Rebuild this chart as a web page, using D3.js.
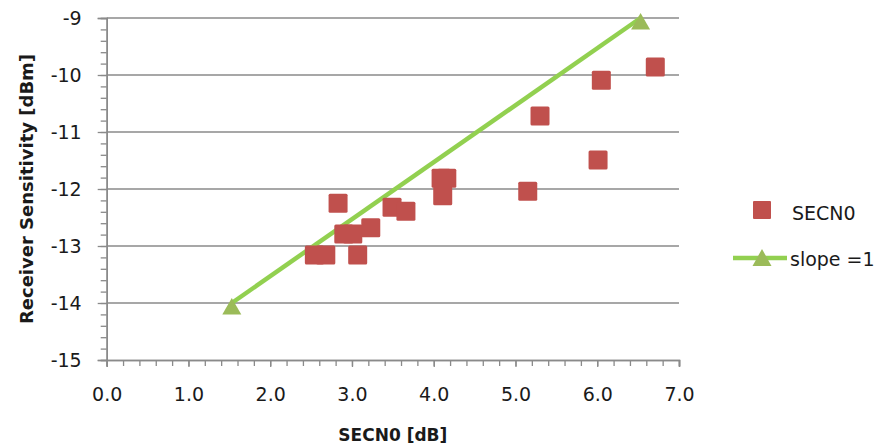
<!DOCTYPE html>
<html>
<head>
<meta charset="utf-8">
<script src="https://cdn.jsdelivr.net/npm/d3@7"></script>
<style>
  html, body { margin: 0; padding: 0; background: #ffffff; }
  svg { display: block; }
</style>
</head>
<body>
<svg id="chart" width="892" height="448"></svg>
<script>
// ---- data ----
const secnoX = [2.54, 2.68, 2.90, 2.83, 3.01, 3.07, 3.23, 3.49, 3.66, 4.09, 4.16, 4.11, 5.15, 5.30, 6.01, 6.05, 6.71];
const secnoY = [-13.16, -13.16, -12.79, -12.25, -12.79, -13.16, -12.68, -12.32, -12.39, -11.81, -11.81, -12.12, -12.04, -10.72, -11.49, -10.09, -9.86];
const slopeX = [1.53, 6.53];
const slopeY = [-14, -9];
const xTicks = [0, 1, 2, 3, 4, 5, 6, 7];
const yTicks = [-15, -14, -13, -12, -11, -10, -9];
const seriesNames = ["SECN0", "slope =1"];
const xTitle = "SECN0 [dB]";
const yTitle = "Receiver Sensitivity [dBm]";

// ---- layout ----
const svg = d3.select("#chart");
const L = 106.7, R = 679, T = 18, B = 360;
const x = d3.scaleLinear().domain([0, 7]).range([L, R]);
const y = d3.scaleLinear().domain([-15, -9]).range([B, T]);
const grey = "#8a8a8a";
const font = "'DejaVu Sans', sans-serif";

// gridlines
svg.append("g").selectAll("line")
  .data(yTicks.filter(d => d > -15))
  .join("line")
  .attr("x1", L).attr("x2", R)
  .attr("y1", d => y(d)).attr("y2", d => y(d))
  .attr("stroke", grey).attr("stroke-width", 1.5);

// minor ticks
const yMinor = d3.range(-15, -9 + 1e-9, 0.2).map(v => +v.toFixed(1));
const xMinor = d3.range(0, 7 + 1e-9, 0.2).map(v => +v.toFixed(1));

const yMinorAxis = svg.append("g").attr("transform", `translate(${L},0)`)
  .call(d3.axisLeft(y).tickValues(yMinor).tickSize(6).tickFormat(""));
const xMinorAxis = svg.append("g").attr("transform", `translate(0,${B})`)
  .call(d3.axisBottom(x).tickValues(xMinor).tickSize(6).tickFormat(""));

// major axes
const yAxis = svg.append("g").attr("transform", `translate(${L},0)`)
  .call(d3.axisLeft(y).tickValues(yTicks).tickSize(9).tickPadding(16).tickFormat(d => String(d)));
const xAxis = svg.append("g").attr("transform", `translate(0,${B})`)
  .call(d3.axisBottom(x).tickValues(xTicks).tickSize(7).tickPadding(21).tickFormat(d3.format(".1f")));

[yMinorAxis, xMinorAxis, yAxis, xAxis].forEach(g => {
  g.select(".domain").attr("stroke", grey).attr("stroke-width", 1.5);
  g.selectAll(".tick line").attr("stroke", grey).attr("stroke-width", 1.3);
  g.selectAll("text").attr("fill", "#1a1a1a").style("font-family", font).style("font-size", "19px");
});
yAxis.selectAll("text").attr("dy", "0.36em");

// axis titles
svg.append("text")
  .attr("x", (L + R) / 2).attr("y", 441)
  .attr("text-anchor", "middle")
  .style("font-family", font).style("font-size", "17px").style("font-weight", "bold")
  .attr("fill", "#1a1a1a")
  .text(xTitle);

svg.append("text")
  .attr("transform", `translate(33,${(T + B) / 2}) rotate(-90)`)
  .attr("text-anchor", "middle")
  .style("font-family", font).style("font-size", "18px").style("font-weight", "bold")
  .attr("fill", "#1a1a1a")
  .text(yTitle);

// slope line
const lineColor = "#92d050";
const triColor = "#9bbb59";
const slopeData = slopeX.map((d, i) => [d, slopeY[i]]);
svg.append("path")
  .datum(slopeData)
  .attr("fill", "none")
  .attr("stroke", lineColor)
  .attr("stroke-width", 4.5)
  .attr("d", d3.line().x(d => x(d[0])).y(d => y(d[1])));

const triPath = "M0,-5 L9.5,11.5 L-9.5,11.5 Z";
svg.append("g").selectAll("path")
  .data(slopeData)
  .join("path")
  .attr("transform", d => `translate(${x(d[0])},${y(d[1])})`)
  .attr("d", triPath)
  .attr("fill", triColor);

// squares
const sq = 19;
const secnoData = secnoX.map((d, i) => [d, secnoY[i]]);
svg.append("g").selectAll("rect")
  .data(secnoData)
  .join("rect")
  .attr("x", d => x(d[0]) - sq / 2)
  .attr("y", d => y(d[1]) - sq / 2)
  .attr("width", sq).attr("height", sq)
  .attr("rx", 1.5)
  .attr("fill", "#c0504d");

// legend
const lg = svg.append("g");
lg.append("rect").attr("x", 753).attr("y", 201).attr("width", 18).attr("height", 18)
  .attr("rx", 1).attr("fill", "#c0504d");
lg.append("text").attr("x", 792).attr("y", 220)
  .style("font-family", font).style("font-size", "19px").attr("fill", "#1a1a1a")
  .text(seriesNames[0]);
lg.append("line").attr("x1", 733).attr("x2", 787).attr("y1", 258).attr("y2", 258)
  .attr("stroke", lineColor).attr("stroke-width", 4.5);
lg.append("path").attr("transform", "translate(762,258)")
  .attr("d", "M0,-9 L9.5,8 L-9.5,8 Z").attr("fill", triColor);
lg.append("text").attr("x", 790).attr("y", 266)
  .style("font-family", font).style("font-size", "19px").attr("fill", "#1a1a1a")
  .text(seriesNames[1]);
</script>
</body>
</html>
